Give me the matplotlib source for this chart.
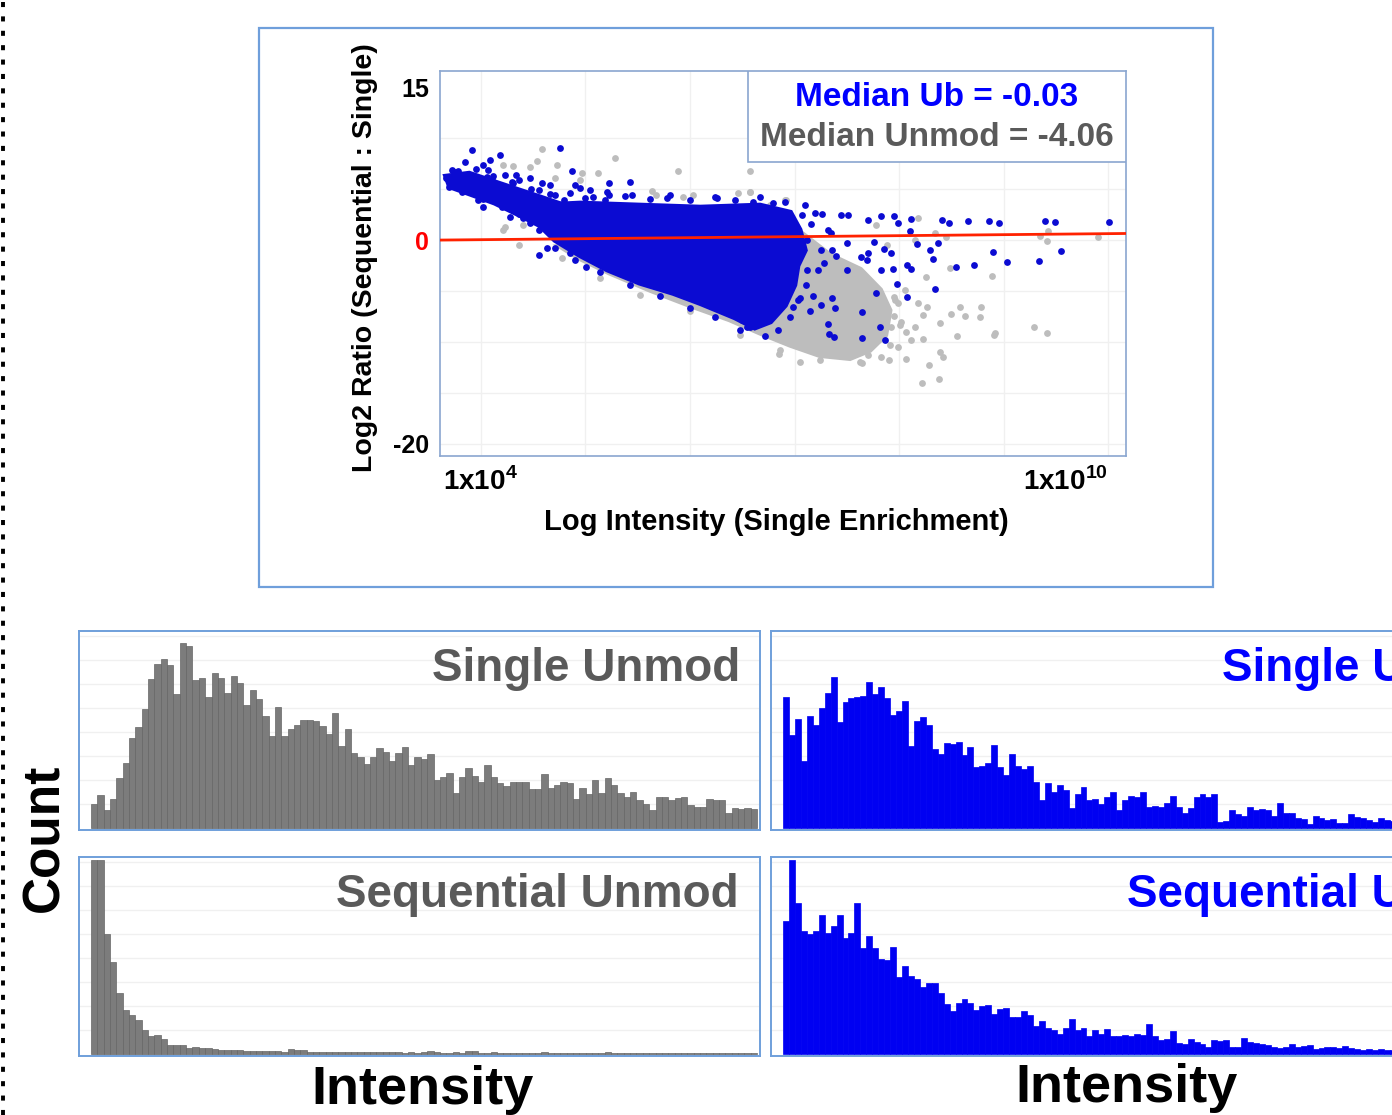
import matplotlib
matplotlib.use("Agg")
import matplotlib.pyplot as plt
from matplotlib import font_manager
from matplotlib.patches import Rectangle
from matplotlib.lines import Line2D

W, H = 1392, 1115

def pick(name, fallback):
    try:
        font_manager.findfont(name, fallback_to_default=False)
        return name
    except Exception:
        return fallback

SANS = pick("Liberation Sans", "DejaVu Sans")
NARROW = pick("Liberation Sans Narrow", SANS)
plt.rcParams["font.family"] = [SANS, "DejaVu Sans"]
plt.rcParams["mathtext.fontset"] = "custom"
plt.rcParams["mathtext.rm"] = NARROW + ":bold"
plt.rcParams["mathtext.bf"] = NARROW + ":bold"

# ---- scatter data: log10 intensity (single enrichment) vs log2 ratio ----
# dense clouds (outline of the solid region)
gray_core_x = [4.76, 5.14, 6.10, 6.96, 7.34, 7.63, 7.82, 7.91, 7.87, 7.72, 7.53, 7.24, 6.96, 6.67, 6.38, 6.00, 5.62, 5.23, 4.95]
gray_core_y = [-0.6, 0.0, 0.5, 1.5, -1.5, -2.9, -4.9, -6.9, -9.3, -10.8, -11.6, -11.3, -10.3, -9.1, -7.8, -6.4, -4.9, -3.2, -1.8]
blue_core_x = [4.56, 4.95, 5.52, 6.10, 6.67, 6.96, 7.05, 7.10, 7.03, 7.00, 6.91, 6.77, 6.62, 6.43, 6.10, 5.84, 5.52, 5.21, 4.95, 4.71, 4.56]
blue_core_y = [3.4, 3.6, 3.4, 3.2, 3.4, 2.7, 1.0, -1.0, -2.5, -4.4, -6.4, -8.0, -8.6, -7.6, -6.2, -5.2, -4.2, -2.9, -1.5, 0.0, 1.5]
blue_tail_x = [3.66, 3.89, 4.18, 4.56, 4.76, 4.76, 4.56, 4.37, 4.13, 3.89, 3.70]
blue_tail_y = [6.3, 6.6, 5.6, 4.3, 3.6, 0.8, 1.4, 2.4, 3.6, 4.5, 5.2]

# individual unmodified peptides
unmod_x = [4.59, 4.54, 4.47, 4.73, 4.31, 4.21, 5.28, 5.89, 6.57, 5.12, 4.97, 5.64, 5.68, 5.93, 6.03, 6.46, 6.57,
           4.23, 4.21, 4.37, 4.78, 4.92, 6.91, 4.40, 4.71, 4.95,
           6.92, 6.77, 6.57, 8.18, 7.78, 8.34, 8.45, 9.41, 7.88, 8.15, 8.89, 8.49, 8.26, 8.06, 8.18, 8.23, 8.58,
           8.50, 8.63, 8.78, 8.77, 8.39, 8.15, 8.07, 8.11, 8.23, 8.55, 8.91, 8.92, 9.29, 9.41, 8.39, 8.42, 8.29,
           8.38, 8.22, 7.90, 7.83, 7.70, 7.65, 8.07, 7.99, 7.70, 7.92, 7.95, 8.02, 7.80, 7.70, 7.83, 8.27, 7.44,
           7.35, 7.22, 7.12, 7.47, 7.57, 7.64, 7.59, 7.62, 7.57, 7.73, 7.99, 7.95, 9.35, 9.42, 9.90, 7.05, 6.85,
           5.14, 5.52, 6.00, 6.48, 6.86, 7.24, 7.63, 7.91, 8.01, 7.96]
unmod_y = [8.9, 7.8, 7.2, 7.4, 7.3, 7.4, 8.1, 6.8, 6.8, 6.6, 6.6, 4.8, 4.4, 4.2, 4.4, 4.6, 4.7,
           1.3, 1.0, -0.5, -1.8, -1.3, 3.9, 1.5, 6.1, 5.9,
           3.9, 3.4, 4.7, 2.2, 1.5, 0.7, 0.3, -0.1, -0.5, 0.0, -3.5, -2.7, -3.6, -4.9, -6.2, -7.4, -6.6,
           -7.3, -7.5, -6.6, -7.6, -8.1, -8.5, -9.0, -9.8, -9.7, -9.4, -9.3, -9.1, -8.5, -9.1, -11.0, -11.5, -12.3,
           -13.6, -14.0, -11.8, -11.5, -11.3, -12.1, -11.7, -10.5, -10.1, -8.5, -7.5, -8.0, -6.6, -5.6, -5.6, -6.6, -11.1,
           -10.5, -10.5, -10.0, -10.5, -9.5, -8.5, -7.2, -4.9, -3.9, -6.2, -6.2, -5.6, 0.4, 0.9, 0.3, -12.0, -11.2,
           -3.7, -5.4, -7.0, -9.3, -10.8, -11.8, -12.0, -10.3, -8.3, -5.9]

# individual ubiquitinated peptides
ub_x = [3.92, 4.76, 4.18, 3.85, 4.09, 3.72, 4.02, 4.87, 5.43, 5.23, 3.70, 3.78, 3.92, 4.11, 4.31, 4.47, 4.59,
        4.02, 4.28, 4.56, 4.63, 4.56, 6.26, 5.78, 5.45, 5.07, 4.85, 4.95, 4.85, 5.01, 6.79, 6.60, 6.55, 6.50, 6.38,
        4.40, 4.18, 3.87, 3.99, 4.25, 4.50, 4.73, 4.37, 4.47, 4.18, 3.80, 4.06, 4.34, 4.95, 5.21,
        4.09, 3.89, 4.28, 4.42, 4.52, 4.33, 4.13, 4.61, 4.71, 4.80, 4.47, 4.23, 3.75, 3.67, 3.82, 3.97, 4.07,
        4.56, 4.37, 4.66, 4.90, 5.04, 5.23, 4.76, 4.64,
        10.01, 9.49, 9.40, 8.96, 8.86, 8.66, 8.48, 8.41, 8.11, 7.95, 7.83, 7.70, 7.51, 7.44, 7.26, 7.07, 7.99, 8.10,
        9.55, 9.34, 9.03, 8.90, 8.72, 8.54, 8.37, 8.30, 8.32, 8.17, 8.34, 8.11, 7.94, 8.08, 7.92, 7.86, 7.76, 7.83,
        7.98, 8.08, 7.78, 7.65, 7.82, 7.87, 7.65, 7.38, 7.33, 7.32, 7.70, 7.69, 7.64, 7.50, 7.39, 7.25, 7.15, 6.99,
        7.05, 7.18, 7.36, 6.57, 6.51, 6.65, 6.86, 6.90, 6.80, 6.67, 6.74,
        7.12, 7.25, 7.40, 7.28, 7.12, 7.35, 7.16, 7.50, 6.96, 7.02,
        5.00, 5.19, 5.38, 5.62, 5.81, 6.00, 6.24, 6.43, 6.67, 6.91, 7.10, 7.20,
        7.32, 7.36, 7.22, 7.11, 7.03, 6.96, 6.84, 6.72,
        6.48, 6.24, 6.00, 5.71, 5.43, 5.14, 4.90, 4.71,
        3.78, 3.95, 4.12, 4.30, 4.48, 4.66, 3.84, 4.02, 4.20, 4.40, 4.60]
ub_y = [8.8, 9.0, 8.4, 7.7, 7.9, 6.9, 7.4, 6.8, 5.7, 5.6, 5.2, 5.9, 4.7, 5.9, 5.6, 6.1, 5.6,
        3.2, 2.3, 1.0, -0.8, -1.5, 4.1, 4.1, 4.4, 4.2, 4.6, -0.3, -1.3, -2.6, 3.6, 3.7, -8.5, -7.8, -7.2,
        4.6, 5.1, 6.4, 4.9, 4.2, 3.6, 2.6, 2.6, 1.7, 3.6, 5.1, 6.2, 6.4, 5.1, 4.7,
        4.4, 5.4, 3.4, 2.9, 2.5, 4.4, 5.6, 3.9, 4.4, 3.9, 4.4, 6.4, 6.7, 6.1, 4.7, 3.9, 6.9,
        4.9, 5.9, 5.4, 5.4, 4.9, 4.4, 2.5, 1.8,
        1.8, 1.8, 1.9, 1.7, 1.9, 1.9, 1.7, 2.0, 2.1, 2.4, 2.4, 2.0, 2.5, 2.5, 2.6, 2.5, 1.7, 0.9,
        -1.1, -2.1, -2.2, -1.2, -2.4, -2.6, -0.3, -1.0, -1.9, -0.4, -4.8, -2.8, -2.8, -2.4, -1.3, -0.9, -0.2, -2.9,
        -4.3, -5.6, -5.2, -7.1, -8.5, -9.8, -9.6, -9.5, -9.2, -8.2, -1.3, -2.0, -1.7, -2.9, -6.7, -6.4, -7.0, -6.6,
        -5.7, -5.5, -5.7, -8.5, -7.6, -8.0, -5.9, -4.9, -4.6, -5.2, -7.2,
        0.0, -1.0, -1.6, -2.3, -2.9, 0.7, 1.6, -0.3, -3.9, -1.6,
        4.1, 3.9, 4.3, 4.0, 4.4, 3.9, 4.2, 3.9, 4.2, 3.7, 3.4, 2.7,
        1.0, -1.0, -2.9, -4.4, -5.9, -7.6, -8.8, -9.4,
        -8.8, -7.6, -6.7, -5.5, -4.4, -3.1, -2.0, -0.8,
        6.8, 7.0, 6.3, 5.7, 5.0, 4.5, 4.8, 4.0, 3.2, 2.2, 1.4]

# linear fit drawn in red
fit_x = [3.61, 10.20]
fit_y = [0.0, 0.65]

# ---- histogram counts (intensity bins) ----
single_unmod = [71, 98, 53, 85, 150, 193, 270, 303, 356, 445, 491, 506, 489, 400, 553, 545, 443, 449, 391, 463,
                450, 403, 456, 433, 368, 413, 385, 335, 275, 363, 275, 296, 308, 323, 323, 321, 305, 280, 343, 246,
                296, 225, 213, 191, 213, 238, 228, 200, 223, 241, 188, 213, 205, 220, 143, 153, 163, 103, 153, 178,
                156, 138, 188, 153, 133, 125, 138, 138, 138, 115, 115, 160, 120, 128, 137, 133, 85, 120, 100, 143,
                103, 150, 128, 103, 93, 106, 83, 71, 53, 93, 93, 83, 88, 93, 68, 61, 61, 85, 83, 83,
                45, 60, 55, 58, 56]
sequential_unmod = [581, 581, 358, 275, 183, 130, 115, 100, 70, 53, 56, 43, 26, 26, 26, 16, 21, 18, 16, 13,
                    11, 11, 10, 10, 9, 9, 8, 8, 7, 7, 6, 13, 12, 11, 6, 6, 5, 5, 6, 5,
                    5, 4, 5, 4, 4, 5, 4, 6, 4, 3, 4, 3, 4, 9, 4, 3, 3, 4, 3, 8,
                    7, 3, 3, 4, 3, 2, 3, 3, 2, 3, 2, 4, 3, 2, 3, 2, 2, 3, 2, 3,
                    2, 4, 2, 2, 3, 2, 2, 3, 2, 2, 3, 2, 2, 2, 3, 2, 2, 2, 3, 2, 2, 2, 2, 2, 3]
single_ub = [391, 278, 325, 200, 336, 308, 358, 403, 453, 318, 376, 390, 393, 395, 438, 401, 421, 388, 338, 351,
             380, 246, 321, 333, 308, 235, 221, 253, 250, 258, 218, 243, 181, 185, 195, 248, 183, 158, 221, 186,
             175, 186, 136, 83, 133, 108, 128, 113, 58, 100, 121, 83, 86, 70, 91, 108, 53, 83, 96, 93,
             108, 63, 66, 63, 73, 96, 63, 45, 60, 93, 100, 93, 100, 16, 21, 53, 41, 36, 61, 53,
             56, 53, 36, 75, 45, 43, 28, 26, 10, 35, 28, 23, 25, 13, 15, 41, 33, 28, 23, 18, 28, 23, 21]
sequential_ub = [398, 581, 453, 368, 358, 368, 415, 361, 383, 415, 348, 363, 453, 318, 353, 318, 283, 281, 321, 230,
                 263, 233, 223, 200, 211, 211, 183, 150, 128, 153, 163, 153, 131, 143, 145, 120, 133, 138, 111, 111,
                 128, 116, 83, 98, 76, 71, 58, 78, 103, 71, 78, 53, 71, 60, 73, 53, 53, 56, 53, 58,
                 56, 90, 53, 40, 45, 68, 31, 30, 45, 35, 28, 20, 40, 38, 40, 21, 21, 46, 36, 31,
                 28, 25, 21, 18, 20, 28, 21, 23, 26, 13, 18, 21, 20, 16, 22, 18, 15, 12, 14, 10, 13, 12, 10]

BLUE_PT = "#0b0bd2"
GRAY_PT = "#bdbdbd"
BLUE = "#0000f2"
BOX = "#6f9fdb"
DARKGRAY = "#5a5a5a"


def fbox(x0, y0, x1, y1):
    return [x0 / W, 1 - y1 / H, (x1 - x0) / W, (y1 - y0) / H]


fig = plt.figure(figsize=(W / 100, H / 100), dpi=100)

# dotted border on the left edge
fig.add_artist(Line2D([2.5 / W, 2.5 / W], [0, 1], transform=fig.transFigure, color="black",
                      lw=2.8, ls=(0, (1.3, 2.4))))

# outer frame of the scatter panel
fig.add_artist(Rectangle((259 / W, 1 - 587 / H), (1213 - 259) / W, (587 - 28) / H, transform=fig.transFigure,
                         fill=False, edgecolor=BOX, lw=1.6))

# ---- scatter ----
ax = fig.add_axes(fbox(440, 71, 1126, 456))
ax.set_xlim(3.61, 10.17)
ax.set_ylim(-21.2, 16.6)
for v in [4, 5, 6, 7, 8, 9, 10]:
    ax.axvline(v, color="#f0f0f0", lw=1, zorder=0)
for v in [-20, -15, -10, -5, 0, 5, 10]:
    ax.axhline(v, color="#f0f0f0", lw=1, zorder=0)
ax.fill(gray_core_x, gray_core_y, color=GRAY_PT, lw=4, zorder=1)
ax.scatter(unmod_x, unmod_y, s=24, color=GRAY_PT, lw=0, zorder=2)
ax.fill(blue_core_x, blue_core_y, color=BLUE_PT, lw=4, zorder=3)
ax.fill(blue_tail_x, blue_tail_y, color=BLUE_PT, lw=3, zorder=3)
ax.scatter(ub_x, ub_y, s=24, color=BLUE_PT, lw=0, zorder=4)
ax.plot(fit_x, fit_y, color="#ff2200", lw=2, zorder=5)
for s in ax.spines.values():
    s.set_color("#8aa6d0")
    s.set_linewidth(1.2)
ax.tick_params(length=0, pad=8)
ax.set_yticks([15, 0, -20])
ax.set_yticklabels(["15", "0", "-20"], fontsize=18, fontweight="bold")
ax.get_yticklabels()[1].set_color("#ff0000")
ax.set_xticks([4, 10])
ax.set_xticklabels([r"1x10$^{4}$", r"1x10$^{10}$"], fontsize=20, family=NARROW, fontweight="bold")
ax.get_xticklabels()[1].set_horizontalalignment("right")
ax.set_ylabel("Log2 Ratio (Sequential : Single)", fontsize=20.5, fontweight="bold")
ax.yaxis.set_label_coords(-0.09, 0.514)
ax.set_xlabel("Log Intensity (Single Enrichment)", fontsize=21, family=NARROW, fontweight="bold")
ax.xaxis.set_label_coords(0.49, -0.135)

# median box
bx0 = (748 - 440) / 686
by0 = (456 - 162) / 385
ax.add_patch(Rectangle((bx0, by0), 1 - bx0, 1 - by0, transform=ax.transAxes, facecolor="white",
                       edgecolor="#8aa6d0", lw=1.2, zorder=6))
cx = (bx0 + 1) / 2
ax.text(cx, (456 - 98) / 385, "Median Ub = -0.03", transform=ax.transAxes, ha="center", va="center",
        fontsize=24, fontweight="bold", color="#0000ff", zorder=7)
ax.text(cx, (456 - 137) / 385, "Median Unmod = -4.06", transform=ax.transAxes, ha="center", va="center",
        fontsize=24, fontweight="bold", color=DARKGRAY, zorder=7)


# ---- histograms ----
def hist_panel(rect, counts, color, edge, bar_left, bar_w, title, tcolor, tx):
    a = fig.add_axes(fbox(*rect))
    x0 = rect[0]
    x1 = rect[2]
    left = -(bar_left - x0) / bar_w
    a.set_xlim(left, left + (x1 - x0) / bar_w)
    a.set_ylim(-7, 590)
    for g in range(72, 590, 72):
        a.axhline(g, color="#f0f0f0", lw=1, zorder=0)
    a.bar(range(len(counts)), counts, width=1.0, align="edge", color=color, edgecolor=edge, lw=0.5, zorder=2)
    a.set_xticks([])
    a.set_yticks([])
    for s in a.spines.values():
        s.set_color(BOX)
        s.set_linewidth(1.4)
    fig.text(tx / W, 1 - (rect[1] + 38) / H, title, ha="left", va="center", fontsize=33,
             fontweight="bold", color=tcolor)
    return a


hist_panel((79, 631, 760, 830), single_unmod, "#7c7c7c", "#666666", 91, (757 - 91) / len(single_unmod),
           "Single Unmod", DARKGRAY, 432)
hist_panel((79, 857, 760, 1056), sequential_unmod, "#7c7c7c", "#666666", 91, (757 - 91) / len(sequential_unmod),
           "Sequential Unmod", DARKGRAY, 336)
hist_panel((771, 631, 1452, 830), single_ub, BLUE, BLUE, 783, 5.95, "Single Ub", "#0000ff", 1222)
hist_panel((771, 857, 1452, 1056), sequential_ub, BLUE, BLUE, 783, 5.95, "Sequential Ub", "#0000ff", 1127)

fig.text(45 / W, 1 - 838 / H, "Count", rotation=90, ha="center", va="center", fontsize=37, fontweight="bold")
fig.text(423 / W, 1 - 1090 / H, "Intensity", ha="center", va="center", fontsize=39, family=NARROW,
         fontweight="bold")
fig.text(1127 / W, 1 - 1088 / H, "Intensity", ha="center", va="center", fontsize=39, family=NARROW,
         fontweight="bold")

fig.savefig("out.png", dpi=100)
